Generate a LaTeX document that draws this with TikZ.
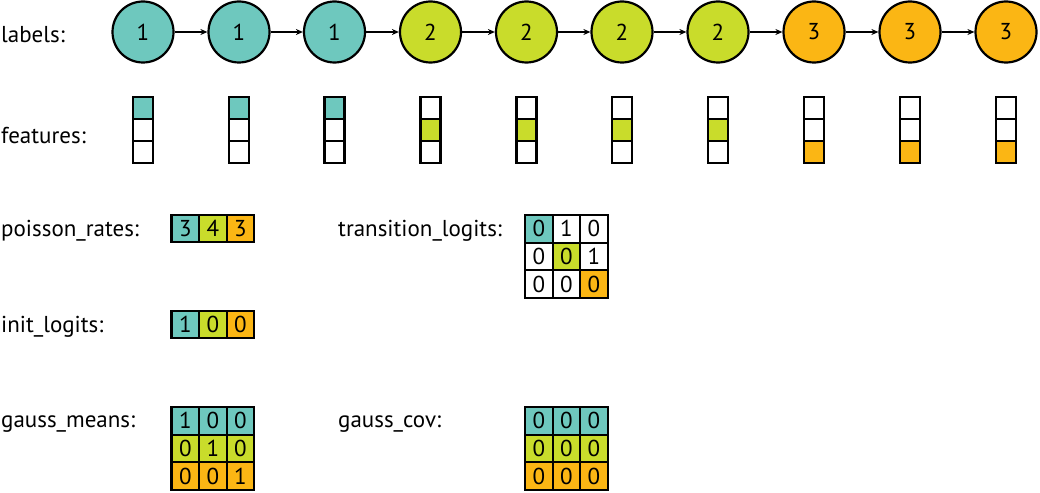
\documentclass[tikz,border=0pt]{standalone}
\usepackage{fontspec}
\setmainfont{PT Sans}
\usetikzlibrary{arrows.meta}
\definecolor{cA}{HTML}{6EC8BE}
\definecolor{cB}{HTML}{C9DC2B}
\definecolor{cC}{HTML}{FBB614}
\begin{document}
\begin{tikzpicture}[x=1pt,y=-1pt,
 state/.style={circle,draw,line width=2.2pt,minimum size=61pt,inner sep=0pt,font=\fontsize{23}{27}\selectfont},
 feat/.style={rectangle,draw,line width=2.2pt,minimum width=20pt,minimum height=22pt,inner sep=0pt,fill=white},
 cell/.style={rectangle,draw,line width=2.2pt,minimum size=27.6pt,inner sep=0pt,fill=white,font=\fontsize{23}{27}\selectfont},
 lbl/.style={anchor=base west,inner sep=0pt,font=\fontsize{23}{27}\selectfont},
 link/.style={line width=1.6pt,-{Stealth[length=7pt,width=6pt]}}]
\useasboundingbox (0,0) rectangle (1040,492);
% states
\node[state,fill=cA] (c1) at (143,32) {1};
\node[state,fill=cA] (c2) at (239,32) {1};
\node[state,fill=cA] (c3) at (334.5,32) {1};
\node[state,fill=cB] (c4) at (430.5,32) {2};
\node[state,fill=cB] (c5) at (526.5,32) {2};
\node[state,fill=cB] (c6) at (622,32) {2};
\node[state,fill=cB] (c7) at (718,32) {2};
\node[state,fill=cC] (c8) at (814,32) {3};
\node[state,fill=cC] (c9) at (910,32) {3};
\node[state,fill=cC] (c10) at (1006,32) {3};
\foreach \a/\b in {1/2,2/3,3/4,4/5,5/6,6/7,7/8,8/9,9/10}
  \draw[link] (c\a) -- (c\b);
% labels
\node[lbl] (tlabels) at (1,43) {labels:};
\node[lbl] (tfeatures) at (1,143) {features:};
\node[lbl] (tpoisson) at (1,236) {poisson\_rates:};
\node[lbl] (ttrans) at (338,236) {transition\_logits:};
\node[lbl] (tinit) at (1,332) {init\_logits:};
\node[lbl] (tmeans) at (1,427) {gauss\_means:};
\node[lbl] (tcov) at (338,427) {gauss\_cov:};
% features
\foreach \i/\x/\k in {1/143/1,2/239/1,3/334.5/1,4/430.5/2,5/526.5/2,6/622/2,7/718/2,8/814/3,9/910/3,10/1006/3}{
  \foreach \r/\y in {1/108,2/130,3/152}{
    \ifnum\r=\k
      \ifcase\k\or
        \node[feat,fill=cA] (f\i-\r) at (\x,\y) {};
      \or
        \node[feat,fill=cB] (f\i-\r) at (\x,\y) {};
      \or
        \node[feat,fill=cC] (f\i-\r) at (\x,\y) {};
      \fi
    \else
      \node[feat] (f\i-\r) at (\x,\y) {};
    \fi
  }
}
% poisson_rates
\node[cell,fill=cA] (p1) at (185.3,228.5) {3};
\node[cell,fill=cB] (p2) at (212.9,228.5) {4};
\node[cell,fill=cC] (p3) at (240.5,228.5) {3};
% init_logits
\node[cell,fill=cA] (i1) at (185.3,324.5) {1};
\node[cell,fill=cB] (i2) at (212.9,324.5) {0};
\node[cell,fill=cC] (i3) at (240.5,324.5) {0};
% transition_logits
\node[cell,fill=cA] (t11) at (538.8,228.8) {0};
\node[cell] (t12) at (566.4,228.8) {1};
\node[cell] (t13) at (594,228.8) {0};
\node[cell] (t21) at (538.8,256.4) {0};
\node[cell,fill=cB] (t22) at (566.4,256.4) {0};
\node[cell] (t23) at (594,256.4) {1};
\node[cell] (t31) at (538.8,284) {0};
\node[cell] (t32) at (566.4,284) {0};
\node[cell,fill=cC] (t33) at (594,284) {0};
% gauss_means
\node[cell,fill=cA] (m11) at (185.3,420.8) {1};
\node[cell,fill=cA] (m12) at (212.9,420.8) {0};
\node[cell,fill=cA] (m13) at (240.5,420.8) {0};
\node[cell,fill=cB] (m21) at (185.3,448.4) {0};
\node[cell,fill=cB] (m22) at (212.9,448.4) {1};
\node[cell,fill=cB] (m23) at (240.5,448.4) {0};
\node[cell,fill=cC] (m31) at (185.3,476) {0};
\node[cell,fill=cC] (m32) at (212.9,476) {0};
\node[cell,fill=cC] (m33) at (240.5,476) {1};
% gauss_cov
\node[cell,fill=cA] (v11) at (538.8,420.8) {0};
\node[cell,fill=cA] (v12) at (566.4,420.8) {0};
\node[cell,fill=cA] (v13) at (594,420.8) {0};
\node[cell,fill=cB] (v21) at (538.8,448.4) {0};
\node[cell,fill=cB] (v22) at (566.4,448.4) {0};
\node[cell,fill=cB] (v23) at (594,448.4) {0};
\node[cell,fill=cC] (v31) at (538.8,476) {0};
\node[cell,fill=cC] (v32) at (566.4,476) {0};
\node[cell,fill=cC] (v33) at (594,476) {0};
\end{tikzpicture}
\end{document}
